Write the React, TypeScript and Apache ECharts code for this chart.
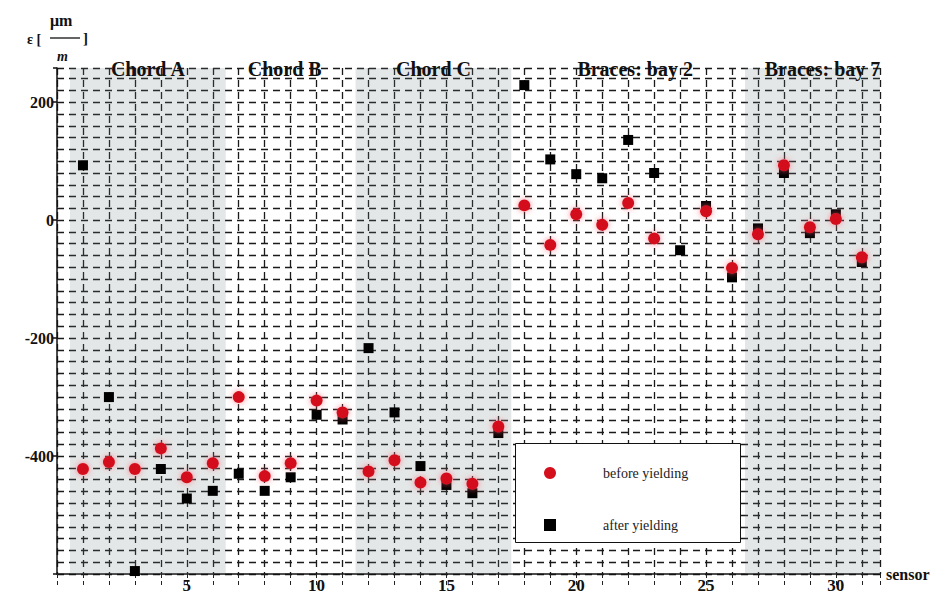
import React, { useEffect, useRef } from "react";
import * as echarts from "echarts";

const sensors = [1,2,3,4,5,6,7,8,9,10,11,12,13,14,15,16,17,18,19,20,21,22,23,24,25,26,27,28,29,30,31];
const beforeYielding: (number | null)[] = [-422,-410,-422,-387,-436,-412,-300,-434,-412,-306,-326,-426,-407,-445,-438,-447,-350,25,-42,10,-8,29,-31,null,15,-81,-24,93,-12,2,-63];
const afterYielding: number[] = [93,-300,-595,-422,-472,-459,-430,-459,-436,-330,-338,-217,-326,-417,-449,-463,-361,229,103,78,71,136,80,-51,24,-97,-14,80,-22,10,-71];

const sectionNames = ["Chord A", "Chord B", "Chord C", "Braces: bay 2", "Braces: bay 7"];
const sectionFrom = [0.5, 6.5, 11.5, 17.5, 26.5];
const sectionTo = [6.5, 11.5, 17.5, 26.5, 31.7];
const sectionShaded = [true, false, true, false, true];
const sectionLabelShift = [0, -6, 0, 7, 10];

const yTickLabels = [200, 0, -200, -400];

const SERIF = "'Liberation Serif', 'Times New Roman', serif";

export default function App() {
  const ref = useRef<HTMLDivElement>(null);
  useEffect(() => {
    if (!ref.current) return;
    const chart = echarts.init(ref.current, undefined, { renderer: "svg" });
    const dash = [7, 5];
    const option: any = {
      animation: false,
      backgroundColor: "#ffffff",
      grid: { left: 57, right: 68, top: 68, bottom: 20, containLabel: false },
      xAxis: {
        type: "value",
        min: 0,
        max: 31.7,
        interval: 1,
        name: "sensor",
        nameLocation: "end",
        nameGap: 6,
        nameTextStyle: { fontFamily: SERIF, fontWeight: "bold", fontSize: 16, color: "#111" },
        axisLine: { show: true, onZero: false, lineStyle: { color: "#111", width: 1.5 } },
        axisTick: { show: true, length: 12, lineStyle: { color: "#222", width: 1, type: [4, 3] } },
        axisLabel: {
          fontFamily: SERIF,
          fontWeight: "bold",
          fontSize: 17,
          color: "#111",
          margin: 3,
          formatter: (v: number) => (v > 0 && v % 5 === 0 ? String(v) : ""),
        },
        splitLine: { show: true, lineStyle: { color: "#1a1a1a", width: 1.3, type: dash } },
      },
      yAxis: [
        {
          type: "value",
          min: -600,
          max: 258,
          interval: 20,
          axisLine: { show: false },
          axisTick: { show: false },
          axisLabel: { show: false },
          splitLine: { show: true, lineStyle: { color: "#1a1a1a", width: 1.3, type: dash } },
        },
        {
          type: "value",
          position: "left",
          min: -600,
          max: 258,
          interval: 200,
          axisLine: { show: true, onZero: false, lineStyle: { color: "#111", width: 1.5 } },
          axisTick: { show: true, length: 4, inside: false, lineStyle: { color: "#111", width: 1.5 } },
          axisLabel: {
            fontFamily: SERIF,
            fontWeight: "bold",
            fontSize: 16,
            color: "#111",
            margin: 3,
            formatter: (v: number) => (yTickLabels.indexOf(v) >= 0 ? String(v) : ""),
          },
          splitLine: { show: false },
        },
      ],
      legend: {
        orient: "vertical",
        left: 539,
        top: 461,
        itemGap: 38,
        itemWidth: 12,
        itemHeight: 12,
        z: 6,
        textStyle: { fontFamily: SERIF, fontSize: 14, color: "#222", padding: [0, 0, 0, 42] },
        data: [
          { name: "before yielding", icon: "circle", itemStyle: { opacity: 1 } },
          { name: "after yielding", icon: "rect", itemStyle: { opacity: 1 } },
        ],
      },
      graphic: [
        {
          type: "rect",
          left: 515,
          top: 443,
          z: 5,
          shape: { width: 225, height: 99 },
          style: { fill: "#ffffff", stroke: "#111", lineWidth: 1 },
        },
        { type: "text", left: 27, top: 32, style: { text: "ε [", font: `bold 14px ${SERIF}`, fill: "#111" } },
        { type: "text", left: 50, top: 12, style: { text: "μm", font: `bold 16px ${SERIF}`, fill: "#111" } },
        { type: "line", shape: { x1: 50, y1: 38, x2: 80, y2: 38 }, style: { stroke: "#111", lineWidth: 1.3 } },
        { type: "text", left: 57, top: 49, style: { text: "m", font: `italic bold 14px ${SERIF}`, fill: "#111" } },
        { type: "text", left: 83, top: 30, style: { text: "]", font: `bold 15px ${SERIF}`, fill: "#111" } },
      ],
      series: [
        {
          name: "sections",
          type: "scatter",
          data: [],
          silent: true,
          markArea: {
            silent: true,
            data: sectionNames.map((n, i) => [
              {
                name: n,
                xAxis: sectionFrom[i],
                itemStyle: { color: sectionShaded[i] ? "rgba(110,125,125,0.19)" : "rgba(255,255,255,0)" },
                label: { offset: [sectionLabelShift[i], 0] },
              },
              { xAxis: sectionTo[i] },
            ]),
            label: {
              show: true,
              position: "top",
              distance: -11,
              fontFamily: SERIF,
              fontWeight: "bold",
              fontSize: 20,
              color: "#111",
            },
          },
        },
        {
          name: "after yielding",
          type: "scatter",
          symbol: "rect",
          symbolSize: 10,
          z: 3,
          itemStyle: { color: "#000000", opacity: 1 },
          data: sensors.map((s, i) => [s, afterYielding[i]]),
        },
        {
          name: "before yielding",
          type: "scatter",
          symbol: "circle",
          symbolSize: 12,
          z: 4,
          itemStyle: { color: "#d4101c", opacity: 1, shadowBlur: 6, shadowColor: "rgba(255,90,110,0.7)" },
          data: sensors
            .map((s, i) => (beforeYielding[i] === null ? null : [s, beforeYielding[i]]))
            .filter((d) => d !== null),
        },
      ],
    };
    chart.setOption(option);
    return () => chart.dispose();
  }, []);
  return <div ref={ref} style={{ width: 948, height: 594, position: "absolute", left: 0, top: 0 }} />;
}
